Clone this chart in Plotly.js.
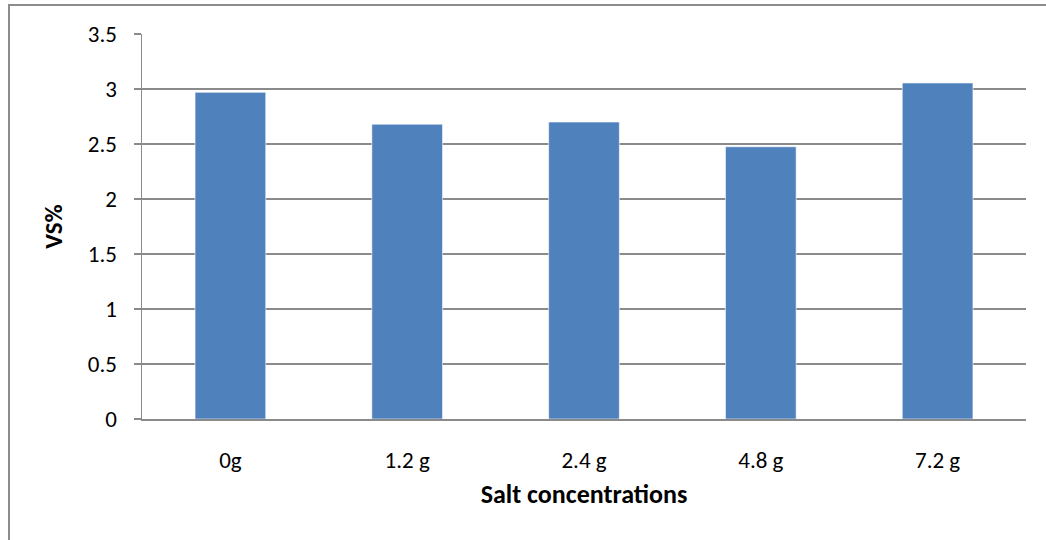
<!DOCTYPE html>
<html>
<head>
<meta charset="utf-8">
<script src="https://cdn.plot.ly/plotly-3.0.1.min.js"></script>
<style>
  html, body { margin: 0; padding: 0; background: #ffffff; overflow: hidden; }
  #wrap { position: relative; width: 1046px; height: 540px; }
  #chart { width: 1046px; height: 540px; }
  /* chart frame, open on the right and bottom */
  #frame {
    position: absolute; left: 8px; top: 4px; right: -10px; bottom: -10px;
    border-left: 2px solid #8c8c8c; border-top: 2px solid #8c8c8c;
    pointer-events: none;
  }
</style>
</head>
<body>
<div id="wrap">
  <div id="chart"></div>
  <div id="frame"></div>
</div>
<script>
// Volatile solids (VS%) measured at each salt concentration
const categories = ['0g', '1.2 g', '2.4 g', '4.8 g', '7.2 g'];
const vsValues = [2.97, 2.68, 2.70, 2.475, 3.055];
const yTicks = [0, 0.5, 1, 1.5, 2, 2.5, 3, 3.5];
const yTickLabels = ['0', '0.5', '1', '1.5', '2', '2.5', '3', '3.5'];

const fontFamily = 'Carlito, Calibri, "Liberation Sans", Arial, sans-serif';
const gridGrey = '#8a8a8a';

const trace = {
  type: 'bar',
  x: categories,
  y: vsValues,
  marker: {
    color: '#4f81bd',
    line: { color: 'rgba(255,255,255,0.6)', width: 1 }
  },
  hoverinfo: 'x+y'
};

const layout = {
  width: 1046,
  height: 540,
  margin: { l: 142, r: 20, t: 34, b: 121 },
  paper_bgcolor: '#ffffff',
  plot_bgcolor: '#ffffff',
  showlegend: false,
  bargap: 0.6,
  font: { family: fontFamily, size: 23, color: '#000000' },
  xaxis: {
    type: 'category',
    showgrid: false,
    showline: true,
    linecolor: gridGrey,
    linewidth: 1.5,
    ticks: '',
    ticklabelstandoff: 20,
    tickfont: { family: fontFamily, size: 23, color: '#000000' },
    title: {
      text: '<b>Salt concentrations</b>',
      font: { family: fontFamily, size: 26, color: '#000000' },
      standoff: 11
    },
    fixedrange: true
  },
  yaxis: {
    range: [0, 3.5],
    tickvals: yTicks,
    ticktext: yTickLabels,
    showgrid: true,
    gridcolor: gridGrey,
    gridwidth: 1.5,
    zeroline: false,
    showline: true,
    linecolor: gridGrey,
    linewidth: 1.5,
    ticks: 'outside',
    ticklen: 7,
    tickcolor: gridGrey,
    tickwidth: 1.5,
    ticklabelstandoff: 12,
    tickfont: { family: fontFamily, size: 23, color: '#000000' },
    title: {
      text: '<b>VS%</b>',
      font: { family: fontFamily, size: 25, color: '#000000' },
      standoff: 18
    },
    fixedrange: true
  }
};

Plotly.newPlot('chart', [trace], layout, { displayModeBar: false, staticPlot: true });
</script>
</body>
</html>
